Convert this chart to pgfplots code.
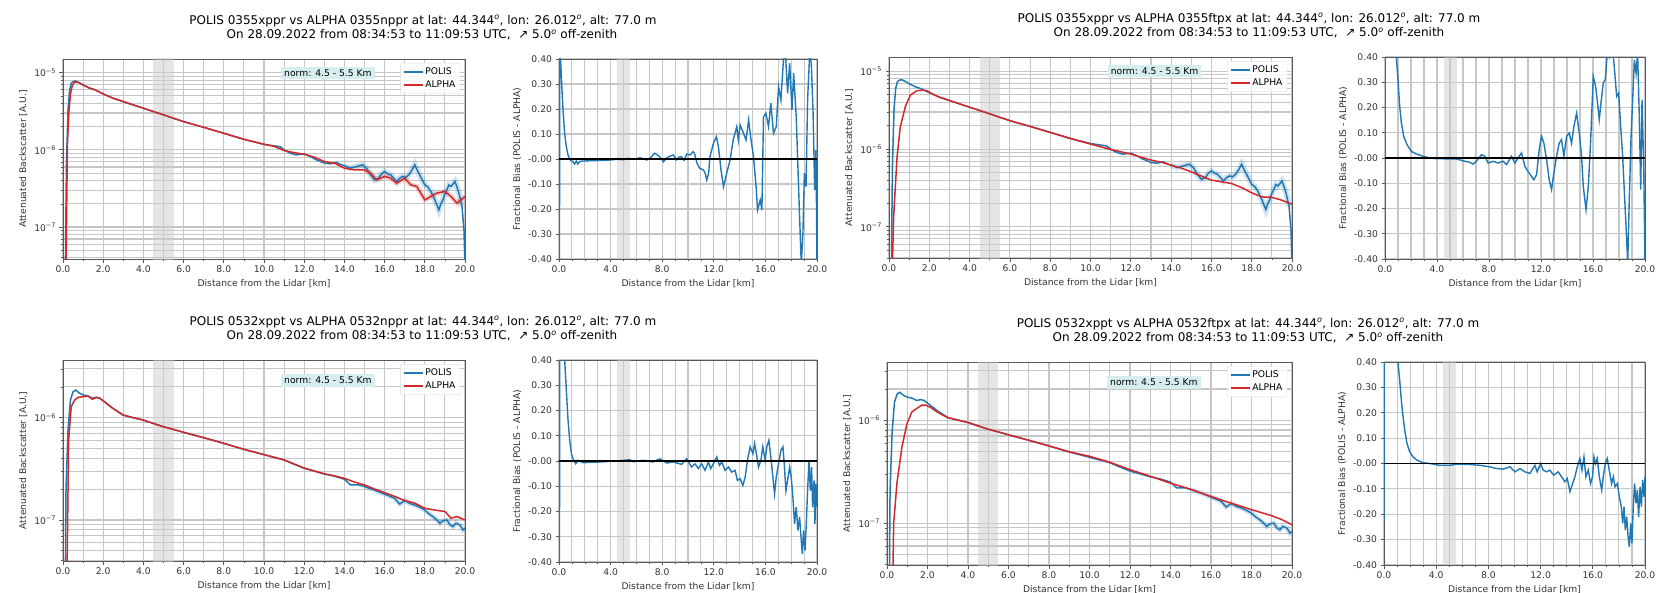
\documentclass[border=0pt]{standalone}
\usepackage{fontspec}
\setmainfont{DejaVu Sans}
\usepackage{pgfplots}
\pgfplotsset{compat=1.18}
\usepackage{pgfplotstable}

\definecolor{polisc}{RGB}{31,119,180}
\definecolor{alphac}{RGB}{214,39,40}
\definecolor{boxc}{RGB}{214,238,240}
\definecolor{gridc}{RGB}{198,198,198}
\definecolor{bandc}{RGB}{204,204,204}
\newcommand{\tk}{\fontsize{9.2}{11}\selectfont}
\newcommand{\ttl}{\fontsize{12}{14}\selectfont}
\newcommand{\dg}{\textsuperscript{\textit{o}}}

% POLIS 0355xppr (top row)
\pgfplotstableread{
x y
0.10 1e-8
0.17 6.08e-7
0.25 3.29e-6
0.33 5.97e-6
0.41 7.28e-6
0.50 7.65e-6
0.63 7.80e-6
0.80 7.43e-6
1.00 6.93e-6
1.30 6.34e-6
1.60 5.97e-6
2.00 5.30e-6
2.50 4.66e-6
3.00 4.22e-6
3.50 3.82e-6
4.00 3.46e-6
5.00 2.84e-6
6.00 2.32e-6
7.00 1.96e-6
8.00 1.64e-6
9.00 1.37e-6
10.00 1.18e-6
10.50 1.127e-6
10.80 1.10e-6
11.00 1.0e-6
11.30 9.06e-7
11.60 8.61e-7
11.80 8.75e-7
12.00 8.88e-7
12.30 8.2e-7
12.60 7.43e-7
12.80 7.1e-7
13.00 6.73e-7
13.30 6.59e-7
13.60 6.86e-7
13.80 6.5e-7
14.00 6.21e-7
14.30 5.79e-7
14.60 6.08e-7
14.90 6.40e-7
15.10 5.79e-7
15.30 4.75e-7
15.50 4.09e-7
15.70 4.30e-7
15.85 4.9e-7
16.00 5.25e-7
16.15 4.9e-7
16.30 4.75e-7
16.60 3.90e-7
16.75 4.3e-7
16.90 4.52e-7
17.05 4.4e-7
17.20 4.75e-7
17.35 5.4e-7
17.50 6.40e-7
17.60 5.6e-7
17.70 4.99e-7
17.85 4.2e-7
18.00 3.52e-7
18.15 3.3e-7
18.30 2.89e-7
18.50 2.25e-7
18.70 1.67e-7
18.80 2.0e-7
18.90 2.25e-7
19.00 2.7e-7
19.10 3.04e-7
19.20 3.5e-7
19.30 3.36e-7
19.40 3.6e-7
19.50 3.90e-7
19.60 3.3e-7
19.70 2.75e-7
19.85 1.85e-7
19.95 9.24e-8
20.00 3.0e-8
}\polisA

% ALPHA 0355nppr
\pgfplotstableread{
x y
0.13 1e-8
0.18 1.5e-7
0.22 1.2e-6
0.30 3.3e-6
0.38 5.5e-6
0.47 6.9e-6
0.60 7.6e-6
0.80 7.4e-6
1.00 6.93e-6
1.30 6.34e-6
1.60 6.0e-6
2.00 5.3e-6
2.50 4.66e-6
3.00 4.22e-6
3.50 3.82e-6
4.00 3.46e-6
5.00 2.84e-6
6.00 2.32e-6
7.00 1.96e-6
8.00 1.64e-6
9.00 1.37e-6
10.00 1.18e-6
10.50 1.11e-6
11.00 9.8e-7
11.50 9.2e-7
12.00 8.79e-7
12.50 8.04e-7
13.00 7.06e-7
13.50 6.73e-7
14.00 5.79e-7
14.50 5.51e-7
15.00 5.51e-7
15.30 4.99e-7
15.60 4.09e-7
16.00 4.52e-7
16.30 4.30e-7
16.60 3.71e-7
17.00 4.30e-7
17.30 3.52e-7
17.60 3.36e-7
18.00 2.25e-7
18.30 2.49e-7
18.60 2.75e-7
19.00 2.89e-7
19.30 2.49e-7
19.60 2.04e-7
19.80 2.25e-7
20.00 2.49e-7
}\alphaNA

% ALPHA 0355ftpx
\pgfplotstableread{
x y
0.12 1e-8
0.23 1.35e-7
0.40 7.96e-7
0.56 1.94e-6
0.81 3.51e-6
1.06 4.96e-6
1.39 5.64e-6
1.72 5.72e-6
1.88 5.62e-6
2.20 5.05e-6
2.50 4.66e-6
3.00 4.22e-6
3.50 3.82e-6
4.00 3.46e-6
5.00 2.84e-6
6.00 2.32e-6
7.00 1.96e-6
8.00 1.64e-6
9.00 1.37e-6
10.00 1.16e-6
11.00 9.9e-7
12.00 8.63e-7
13.00 7.22e-7
13.50 6.8e-7
14.00 6.22e-7
14.50 5.7e-7
15.00 5.11e-7
15.50 4.5e-7
16.00 3.99e-7
16.50 3.8e-7
17.00 3.61e-7
17.50 3.2e-7
18.00 2.74e-7
18.50 2.43e-7
19.00 2.4e-7
19.50 2.2e-7
20.00 1.96e-7
}\alphaFA

% POLIS 0532xppt (bottom row)
\pgfplotstableread{
x y
0.10 1e-8
0.15 2e-7
0.25 7.57e-7
0.37 1.49e-6
0.50 1.79e-6
0.63 1.86e-6
0.83 1.73e-6
1.00 1.67e-6
1.24 1.63e-6
1.46 1.55e-6
1.66 1.58e-6
1.83 1.55e-6
2.16 1.38e-6
2.49 1.23e-6
2.99 1.06e-6
3.49 1.0e-6
3.98 9.49e-7
4.48 8.80e-7
4.98 8.17e-7
5.48 7.69e-7
6.00 7.19e-7
7.00 6.37e-7
8.00 5.61e-7
9.00 4.90e-7
10.00 4.35e-7
11.00 3.86e-7
11.50 3.5e-7
12.00 3.20e-7
12.50 3.0e-7
13.00 2.81e-7
13.50 2.68e-7
14.00 2.50e-7
14.30 2.2e-7
14.70 2.2e-7
15.00 2.12e-7
15.50 1.96e-7
16.00 1.79e-7
16.50 1.63e-7
16.75 1.43e-7
17.00 1.55e-7
17.25 1.45e-7
17.50 1.40e-7
17.75 1.33e-7
18.00 1.25e-7
18.20 1.15e-7
18.40 1.08e-7
18.60 1.0e-7
18.75 9.28e-8
18.90 9.8e-8
19.10 1.0e-7
19.25 9.0e-8
19.40 8.61e-8
19.55 9.3e-8
19.75 8.93e-8
19.90 8.0e-8
20.00 8.29e-8
}\polisB

% ALPHA 0532nppr
\pgfplotstableread{
x y
0.17 1e-8
0.28 6.05e-7
0.41 1.28e-6
0.58 1.49e-6
0.75 1.58e-6
1.00 1.60e-6
1.24 1.63e-6
1.46 1.51e-6
1.66 1.58e-6
1.83 1.55e-6
2.16 1.38e-6
2.49 1.23e-6
2.99 1.06e-6
3.49 1.0e-6
3.98 9.49e-7
4.48 8.80e-7
4.98 8.17e-7
5.48 7.69e-7
6.00 7.19e-7
7.00 6.37e-7
8.00 5.61e-7
9.00 4.90e-7
10.00 4.35e-7
11.00 3.86e-7
12.00 3.22e-7
13.00 2.83e-7
13.50 2.70e-7
14.00 2.55e-7
14.50 2.35e-7
15.00 2.20e-7
15.50 2.0e-7
16.00 1.85e-7
16.50 1.7e-7
17.00 1.55e-7
17.50 1.46e-7
18.00 1.30e-7
18.50 1.25e-7
19.00 1.21e-7
19.30 1.04e-7
19.60 1.08e-7
20.00 1.0e-7
}\alphaNB

% ALPHA 0532ftpx
\pgfplotstableread{
x y
0.25 1e-8
0.33 1e-7
0.49 2.44e-7
0.74 5.52e-7
0.99 9.29e-7
1.23 1.20e-6
1.48 1.30e-6
1.73 1.40e-6
1.89 1.40e-6
2.14 1.33e-6
2.39 1.23e-6
2.70 1.13e-6
2.99 1.06e-6
3.49 1.0e-6
3.98 9.49e-7
4.48 8.80e-7
4.98 8.17e-7
5.48 7.69e-7
6.00 7.19e-7
7.00 6.37e-7
8.00 5.61e-7
9.00 4.92e-7
10.00 4.45e-7
11.00 3.9e-7
12.00 3.30e-7
13.00 2.85e-7
14.00 2.44e-7
15.00 2.13e-7
16.00 1.81e-7
17.00 1.56e-7
18.00 1.35e-7
19.00 1.18e-7
19.50 1.08e-7
20.00 9.64e-8
}\alphaFB

% fractional bias, top-left
\pgfplotstableread{
x y
0.03 -1.0
0.06 1.0
0.10 0.42
0.21 0.30
0.31 0.196
0.44 0.10
0.57 0.049
0.70 0.016
0.88 -0.004
1.09 -0.011
1.20 -0.02
1.35 -0.008
1.45 -0.02
1.60 -0.01
1.87 -0.008
2.50 -0.007
3.16 -0.006
4.00 -0.004
4.46 -0.001
5.00 -0.003
5.40 0.003
5.80 -0.002
6.27 0.005
6.80 -0.004
7.10 0.005
7.40 0.023
7.60 0.018
7.80 0.009
8.10 -0.011
8.30 0.002
8.50 0.009
8.86 0.016
9.10 -0.004
9.30 0.008
9.50 0.009
9.70 -0.005
9.90 0.02
10.15 0.016
10.40 0.029
10.50 0.023
10.70 -0.017
10.90 -0.037
11.20 -0.044
11.35 -0.06
11.45 -0.084
11.60 -0.057
11.70 0.009
11.97 0.063
12.20 0.089
12.36 0.049
12.56 -0.044
12.75 -0.111
13.00 -0.057
13.26 -0.004
13.50 0.076
13.78 0.129
13.90 0.076
14.04 0.136
14.30 0.103
14.50 0.076
14.70 0.156
14.87 0.083
15.08 0.009
15.28 -0.111
15.39 -0.204
15.60 -0.164
15.73 -0.204
15.85 0.169
16.04 0.183
16.24 0.129
16.42 0.223
16.63 0.103
16.84 0.129
17.02 0.289
17.20 0.236
17.40 0.396
17.54 0.436
17.72 0.263
17.88 0.383
18.06 0.196
18.19 0.343
18.39 0.169
18.52 -0.031
18.65 -0.231
18.78 -0.42
18.91 -0.297
19.02 -0.057
19.15 -0.11
19.27 0.236
19.43 0.42
19.56 0.38
19.69 0.196
19.82 -0.124
19.92 0.036
20.00 -0.42
}\biasTL

% fractional bias, top-right
\pgfplotstableread{
x y
0.00 -0.22
0.03 1.5
0.60 0.75
0.87 0.40
1.00 0.31
1.13 0.205
1.26 0.139
1.44 0.086
1.69 0.053
2.03 0.026
2.41 0.016
2.93 0.007
3.44 0.0
4.00 -0.003
4.47 -0.003
5.00 -0.004
5.50 -0.004
6.00 -0.011
6.52 -0.017
6.78 -0.024
7.03 -0.013
7.42 0.013
7.68 0.007
7.93 -0.02
8.32 -0.013
8.70 -0.02
9.09 -0.013
9.35 -0.026
9.73 0.007
9.99 -0.02
10.24 0.0
10.50 0.02
10.76 -0.033
11.00 -0.053
11.27 -0.073
11.45 -0.086
11.66 -0.066
11.86 0.033
12.04 0.086
12.22 0.059
12.43 -0.007
12.63 -0.086
12.81 -0.125
12.99 -0.059
13.20 0.007
13.40 0.059
13.58 0.073
13.76 0.007
13.97 0.086
14.17 0.099
14.35 0.059
14.53 0.125
14.74 0.178
14.94 0.099
15.12 0.007
15.25 -0.112
15.46 -0.205
15.64 -0.112
15.81 0.059
16.02 0.323
16.20 0.284
16.35 0.218
16.48 0.152
16.64 0.231
16.79 0.297
16.94 0.31
17.10 0.416
17.25 0.40
17.43 0.469
17.61 0.376
17.82 0.244
17.97 0.257
18.13 0.125
18.28 0.007
18.44 -0.165
18.54 -0.271
18.67 -0.416
18.79 -0.165
18.92 0.073
19.05 0.231
19.18 0.389
19.31 0.336
19.43 0.416
19.56 0.165
19.67 -0.125
19.77 0.231
19.90 -0.033
20.00 -0.42
}\biasTR

% fractional bias, bottom-left
\pgfplotstableread{
x y
0.03 -1.0
0.06 1.0
0.44 0.40
0.57 0.28
0.70 0.162
0.83 0.082
0.96 0.029
1.09 0.009
1.30 -0.011
1.48 0.003
1.87 -0.007
2.50 -0.005
3.16 -0.004
4.46 0.0
5.49 0.005
5.75 -0.003
6.53 0.003
7.30 -0.004
7.82 0.009
8.34 -0.008
8.86 -0.004
9.50 -0.013
9.90 0.009
10.28 -0.024
10.54 -0.011
10.80 -0.030
11.06 -0.011
11.32 -0.037
11.58 -0.004
11.76 -0.030
11.97 -0.011
12.23 0.016
12.44 -0.017
12.62 -0.004
12.87 -0.037
13.13 -0.024
13.39 -0.044
13.65 -0.037
13.83 -0.077
14.04 -0.07
14.25 -0.097
14.43 -0.064
14.61 0.003
14.82 0.056
15.03 0.029
15.16 0.069
15.34 0.016
15.47 -0.024
15.65 0.003
15.80 0.056
15.98 0.003
16.11 0.056
16.27 0.082
16.42 0.016
16.58 -0.064
16.71 -0.130
16.84 -0.064
17.02 -0.011
17.20 0.042
17.36 0.056
17.46 -0.011
17.59 -0.117
17.72 -0.077
17.88 -0.024
18.00 -0.064
18.13 -0.143
18.26 -0.249
18.39 -0.183
18.52 -0.275
18.65 -0.222
18.76 -0.302
18.86 -0.368
18.96 -0.275
19.07 -0.355
19.17 -0.249
19.27 -0.117
19.38 0.003
19.48 -0.117
19.58 -0.024
19.66 -0.183
19.77 -0.077
19.84 -0.249
19.92 -0.090
20.00 -0.183
}\biasBL

% fractional bias, bottom-right
\pgfplotstableread{
x y
0.00 -0.23
0.03 1.5
0.70 0.80
1.07 0.40
1.20 0.328
1.33 0.249
1.46 0.183
1.59 0.131
1.76 0.079
1.97 0.046
2.22 0.026
2.53 0.013
2.99 0.003
3.50 0.0
4.27 -0.007
5.04 -0.007
5.55 -0.003
6.57 -0.004
7.34 -0.007
8.10 -0.013
8.62 -0.02
9.13 -0.022
9.64 -0.013
10.03 -0.033
10.41 -0.02
10.80 -0.033
11.18 -0.039
11.56 -0.007
11.74 -0.033
12.00 0.0
12.20 -0.026
12.46 -0.033
12.70 -0.026
13.00 -0.046
13.35 -0.033
13.60 -0.052
13.86 -0.072
14.04 -0.059
14.25 -0.111
14.45 -0.079
14.63 -0.052
14.81 -0.013
15.01 0.02
15.17 -0.026
15.32 0.026
15.47 -0.052
15.65 -0.026
15.83 -0.079
15.98 -0.052
16.09 0.026
16.20 0.0
16.34 0.020
16.50 -0.052
16.68 -0.105
16.80 -0.052
16.96 0.0
17.11 0.020
17.26 -0.026
17.44 -0.079
17.57 -0.052
17.70 -0.092
17.88 -0.079
18.03 -0.131
18.18 -0.170
18.29 -0.236
18.39 -0.170
18.49 -0.262
18.60 -0.210
18.70 -0.288
18.80 -0.328
18.90 -0.236
19.00 -0.315
19.10 -0.170
19.20 -0.079
19.31 -0.157
19.41 -0.105
19.51 -0.210
19.62 -0.092
19.72 -0.170
19.82 -0.066
19.92 -0.131
20.00 -0.052
}\biasBR

\pgfplotsset{
  every axis/.append style={scale only axis, xmin=0, xmax=20,
    tick pos=left, tick align=outside,
    grid=both,
    major grid style={draw=gridc, line width=1.1pt},
    minor grid style={draw=gridc, line width=1.1pt},
    axis line style={draw=black!65, line width=0.9pt},
    major tick style={draw=black!65, line width=0.8pt},
    minor tick style={draw=black!65, line width=0.6pt},
    major tick length=3.5pt, minor tick length=2pt,
    tick label style={font=\tk, text=black!80},
    label style={font=\tk, text=black!80},
    xlabel={Distance from the Lidar [km]},
    legend style={at={(0.988,0.98)}, anchor=north east, draw=black!15, rounded corners=2pt,
      fill=white, fill opacity=0.85, text opacity=1, font=\tk, inner sep=2.5pt, row sep=1pt},
    legend cell align=left},
  legend image code/.code={\draw[#1] (0pt,0pt) -- (19pt,0pt);},
}

\begin{document}
\begin{tikzpicture}[x=1pt,y=1pt]
\useasboundingbox (0,0) rectangle (1674,592);

% ---------- top left ----------
\node[font=\ttl] at (423,571) {POLIS 0355xppr vs ALPHA 0355nppr at lat: 44.344\dg, lon: 26.012\dg, alt: 77.0 m};
\node[font=\ttl] at (422,557) {On 28.09.2022 from 08:34:53 to 11:09:53 UTC,\ \ ↗ 5.0\dg\ off-zenith};
\begin{axis}[at={(63pt,333pt)}, anchor=south west, width=402pt, height=200pt,
  ymode=log, ymin=3.855e-8, ymax=1.503e-5,
  xtick={0,2,...,20}, minor xtick={1,3,...,19},
  xticklabels={0.0,2.0,4.0,6.0,8.0,10.0,12.0,14.0,16.0,18.0,20.0},
  ytick={1e-7,1e-6,1e-5},
  yticklabels={10\textsuperscript{−7},10\textsuperscript{−6},10\textsuperscript{−5}},
  minor ytick={3e-8,4e-8,5e-8,6e-8,7e-8,8e-8,9e-8,2e-7,3e-7,4e-7,5e-7,6e-7,7e-7,8e-7,9e-7,2e-6,3e-6,4e-6,5e-6,6e-6,7e-6,8e-6,9e-6},
  ylabel={Attenuated Backscatter [A.U.]}]
\addplot[draw=none, fill=bandc, fill opacity=0.5, forget plot] coordinates {(4.5,1e-9) (4.5,1e-3) (5.5,1e-3) (5.5,1e-9)};
\addplot[draw=polisc, line width=6pt, opacity=0.2, restrict x to domain=14:19.9, forget plot] table {\polisA};
\addplot[draw=alphac, line width=5pt, opacity=0.2, restrict x to domain=15:20, forget plot] table {\alphaNA};
\addplot[draw=polisc, line width=1.5pt] table {\polisA};
\addlegendentry{POLIS}
\addplot[draw=alphac, line width=1.5pt] table {\alphaNA};
\addlegendentry{ALPHA}
\node[fill=boxc, font=\tk, inner sep=3pt] at (rel axis cs:0.659,0.93) {norm: 4.5 - 5.5 Km};
\end{axis}
\begin{axis}[at={(559pt,333pt)}, anchor=south west, width=258pt, height=200pt,
  ymin=-0.4, ymax=0.4,
  xtick={0,4,...,20}, minor xtick={1,2,3,5,6,7,9,10,11,13,14,15,17,18,19},
  xticklabels={0.0,4.0,8.0,12.0,16.0,20.0},
  ytick={-0.4,-0.3,-0.2,-0.1,0,0.1,0.2,0.3,0.4},
  yticklabels={-0.40,-0.30,-0.20,-0.10,-0.00,0.10,0.20,0.30,0.40},
  ylabel={Fractional Bias (POLIS - ALPHA)}]
\addplot[draw=none, fill=bandc, fill opacity=0.5, forget plot] coordinates {(4.5,-1) (4.5,1) (5.5,1) (5.5,-1)};
\addplot[draw=polisc, line width=1.4pt] table {\biasTL};
\addplot[draw=black, line width=1.3pt] coordinates {(0,0) (20,0)};
\end{axis}

% ---------- top right ----------
\node[font=\ttl] at (1249,573) {POLIS 0355xppr vs ALPHA 0355ftpx at lat: 44.344\dg, lon: 26.012\dg, alt: 77.0 m};
\node[font=\ttl] at (1249,559) {On 28.09.2022 from 08:34:53 to 11:09:53 UTC,\ \ ↗ 5.0\dg\ off-zenith};
\begin{axis}[at={(889pt,334pt)}, anchor=south west, width=403pt, height=201pt,
  ymode=log, ymin=3.98e-8, ymax=1.528e-5,
  xtick={0,2,...,20}, minor xtick={1,3,...,19},
  xticklabels={0.0,2.0,4.0,6.0,8.0,10.0,12.0,14.0,16.0,18.0,20.0},
  ytick={1e-7,1e-6,1e-5},
  yticklabels={10\textsuperscript{−7},10\textsuperscript{−6},10\textsuperscript{−5}},
  minor ytick={3e-8,4e-8,5e-8,6e-8,7e-8,8e-8,9e-8,2e-7,3e-7,4e-7,5e-7,6e-7,7e-7,8e-7,9e-7,2e-6,3e-6,4e-6,5e-6,6e-6,7e-6,8e-6,9e-6},
  ylabel={Attenuated Backscatter [A.U.]}]
\addplot[draw=none, fill=bandc, fill opacity=0.5, forget plot] coordinates {(4.5,1e-9) (4.5,1e-3) (5.5,1e-3) (5.5,1e-9)};
\addplot[draw=polisc, line width=6pt, opacity=0.2, restrict x to domain=14:19.9, forget plot] table {\polisA};
\addplot[draw=polisc, line width=1.5pt] table {\polisA};
\addlegendentry{POLIS}
\addplot[draw=alphac, line width=1.5pt] table {\alphaFA};
\addlegendentry{ALPHA}
\node[fill=boxc, font=\tk, inner sep=3pt] at (rel axis cs:0.659,0.93) {norm: 4.5 - 5.5 Km};
\end{axis}
\begin{axis}[at={(1385pt,333pt)}, anchor=south west, width=260pt, height=202pt,
  ymin=-0.4, ymax=0.4,
  xtick={0,4,...,20}, minor xtick={1,2,3,5,6,7,9,10,11,13,14,15,17,18,19},
  xticklabels={0.0,4.0,8.0,12.0,16.0,20.0},
  ytick={-0.4,-0.3,-0.2,-0.1,0,0.1,0.2,0.3,0.4},
  yticklabels={-0.40,-0.30,-0.20,-0.10,-0.00,0.10,0.20,0.30,0.40},
  ylabel={Fractional Bias (POLIS - ALPHA)}]
\addplot[draw=none, fill=bandc, fill opacity=0.5, forget plot] coordinates {(4.5,-1) (4.5,1) (5.5,1) (5.5,-1)};
\addplot[draw=polisc, line width=1.4pt] table {\biasTR};
\addplot[draw=black, line width=1.3pt] coordinates {(0,0) (20,0)};
\end{axis}

% ---------- bottom left ----------
\node[font=\ttl] at (423,270) {POLIS 0532xppt vs ALPHA 0532nppr at lat: 44.344\dg, lon: 26.012\dg, alt: 77.0 m};
\node[font=\ttl] at (422,256) {On 28.09.2022 from 08:34:53 to 11:09:53 UTC,\ \ ↗ 5.0\dg\ off-zenith};
\begin{axis}[at={(63pt,31pt)}, anchor=south west, width=402pt, height=201pt,
  ymode=log, ymin=3.97e-8, ymax=3.66e-6,
  xtick={0,2,...,20}, minor xtick={1,3,...,19},
  xticklabels={0.0,2.0,4.0,6.0,8.0,10.0,12.0,14.0,16.0,18.0,20.0},
  ytick={1e-7,1e-6},
  yticklabels={10\textsuperscript{−7},10\textsuperscript{−6}},
  minor ytick={3e-8,4e-8,5e-8,6e-8,7e-8,8e-8,9e-8,2e-7,3e-7,4e-7,5e-7,6e-7,7e-7,8e-7,9e-7,2e-6,3e-6},
  ylabel={Attenuated Backscatter [A.U.]}]
\addplot[draw=none, fill=bandc, fill opacity=0.5, forget plot] coordinates {(4.5,1e-9) (4.5,1e-3) (5.5,1e-3) (5.5,1e-9)};
\addplot[draw=polisc, line width=5pt, opacity=0.2, restrict x to domain=15:20, forget plot] table {\polisB};
\addplot[draw=polisc, line width=1.5pt] table {\polisB};
\addlegendentry{POLIS}
\addplot[draw=alphac, line width=1.5pt] table {\alphaNB};
\addlegendentry{ALPHA}
\node[fill=boxc, font=\tk, inner sep=3pt] at (rel axis cs:0.659,0.90) {norm: 4.5 - 5.5 Km};
\end{axis}
\begin{axis}[at={(559pt,30pt)}, anchor=south west, width=258pt, height=202pt,
  ymin=-0.4, ymax=0.4,
  xtick={0,4,...,20}, minor xtick={1,2,3,5,6,7,9,10,11,13,14,15,17,18,19},
  xticklabels={0.0,4.0,8.0,12.0,16.0,20.0},
  ytick={-0.4,-0.3,-0.2,-0.1,0,0.1,0.2,0.3,0.4},
  yticklabels={-0.40,-0.30,-0.20,-0.10,-0.00,0.10,0.20,0.30,0.40},
  ylabel={Fractional Bias (POLIS - ALPHA)}]
\addplot[draw=none, fill=bandc, fill opacity=0.5, forget plot] coordinates {(4.5,-1) (4.5,1) (5.5,1) (5.5,-1)};
\addplot[draw=polisc, line width=1.4pt] table {\biasBL};
\addplot[draw=black, line width=1.3pt] coordinates {(0,0) (20,0)};
\end{axis}

% ---------- bottom right ----------
\node[font=\ttl] at (1248,268) {POLIS 0532xppt vs ALPHA 0532ftpx at lat: 44.344\dg, lon: 26.012\dg, alt: 77.0 m};
\node[font=\ttl] at (1248,254) {On 28.09.2022 from 08:34:53 to 11:09:53 UTC,\ \ ↗ 5.0\dg\ off-zenith};
\begin{axis}[at={(887pt,27pt)}, anchor=south west, width=405pt, height=203pt,
  ymode=log, ymin=3.92e-8, ymax=3.66e-6,
  xtick={0,2,...,20}, minor xtick={1,3,...,19},
  xticklabels={0.0,2.0,4.0,6.0,8.0,10.0,12.0,14.0,16.0,18.0,20.0},
  ytick={1e-7,1e-6},
  yticklabels={10\textsuperscript{−7},10\textsuperscript{−6}},
  minor ytick={3e-8,4e-8,5e-8,6e-8,7e-8,8e-8,9e-8,2e-7,3e-7,4e-7,5e-7,6e-7,7e-7,8e-7,9e-7,2e-6,3e-6},
  ylabel={Attenuated Backscatter [A.U.]}]
\addplot[draw=none, fill=bandc, fill opacity=0.5, forget plot] coordinates {(4.5,1e-9) (4.5,1e-3) (5.5,1e-3) (5.5,1e-9)};
\addplot[draw=polisc, line width=5pt, opacity=0.2, restrict x to domain=15:20, forget plot] table {\polisB};
\addplot[draw=polisc, line width=1.5pt] table {\polisB};
\addlegendentry{POLIS}
\addplot[draw=alphac, line width=1.5pt] table {\alphaFB};
\addlegendentry{ALPHA}
\node[fill=boxc, font=\tk, inner sep=3pt] at (rel axis cs:0.659,0.90) {norm: 4.5 - 5.5 Km};
\end{axis}
\begin{axis}[at={(1384pt,27pt)}, anchor=south west, width=261pt, height=203pt,
  ymin=-0.4, ymax=0.4,
  xtick={0,4,...,20}, minor xtick={1,2,3,5,6,7,9,10,11,13,14,15,17,18,19},
  xticklabels={0.0,4.0,8.0,12.0,16.0,20.0},
  ytick={-0.4,-0.3,-0.2,-0.1,0,0.1,0.2,0.3,0.4},
  yticklabels={-0.40,-0.30,-0.20,-0.10,-0.00,0.10,0.20,0.30,0.40},
  ylabel={Fractional Bias (POLIS - ALPHA)}]
\addplot[draw=none, fill=bandc, fill opacity=0.5, forget plot] coordinates {(4.5,-1) (4.5,1) (5.5,1) (5.5,-1)};
\addplot[draw=polisc, line width=1.4pt] table {\biasBR};
\addplot[draw=black, line width=1.3pt] coordinates {(0,0) (20,0)};
\end{axis}
\end{tikzpicture}
\end{document}
